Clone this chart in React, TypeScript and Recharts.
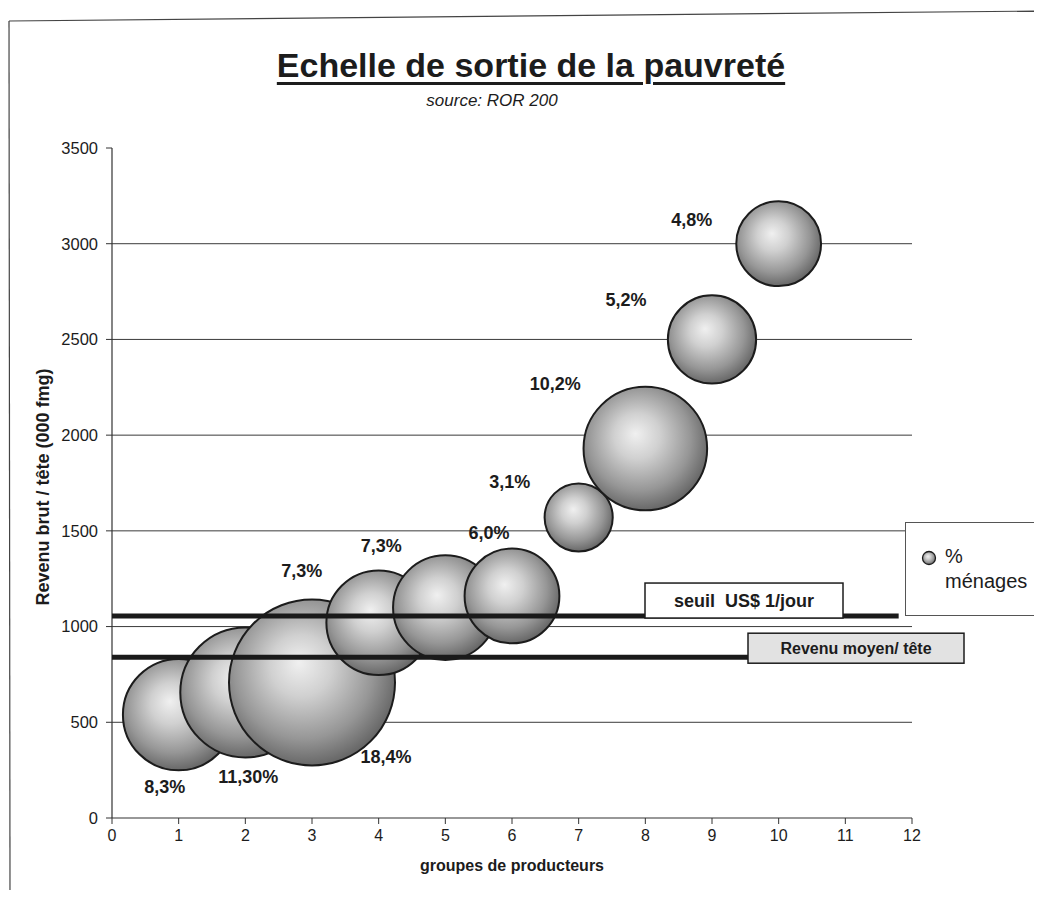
import React from 'react';
import {
  ScatterChart,
  Scatter,
  XAxis,
  YAxis,
  ZAxis,
  CartesianGrid,
  ReferenceLine,
  Legend,
} from 'recharts';

// ---- data ----
const groupes = [1, 2, 3, 4, 5, 6, 7, 8, 9, 10];
const revenus = [540, 656, 708, 1020, 1099, 1160, 1570, 1930, 2500, 3000];
const pctMenages = [8.3, 11.3, 18.4, 7.3, 7.3, 6.0, 3.1, 10.2, 5.2, 4.8];
const pctLabels = ['8,3%', '11,30%', '18,4%', '7,3%', '7,3%', '6,0%', '3,1%', '10,2%', '5,2%', '4,8%'];
const xTicks = [0, 1, 2, 3, 4, 5, 6, 7, 8, 9, 10, 11, 12];
const yTicks = [0, 500, 1000, 1500, 2000, 2500, 3000, 3500];
const gridValues = [500, 1000, 1500, 2000, 2500, 3000];
const seuilUSD = 1055;
const seuilEnd = 11.8;
const revenuMoyen = 840;

const data = groupes.map((g, i) => ({ x: g, y: revenus[i], z: pctMenages[i], label: pctLabels[i], i }));

// label placement (pixels, relative to bubble centre)
const LABEL_OFFSETS: [number, number][] = [
  [-14, 72], [3, 85], [74, 75], [-77, -52], [-64, -62],
  [-23, -63], [-69, -35], [-90, -65], [-86, -39], [-87, -24],
];

const FONT = '"Liberation Sans", Arial, Helvetica, sans-serif';
const INK = '#1c1c1c';
const MAX_R = 83;

const Gradient = ({ id }: { id: string }) => (
  <radialGradient id={id} cx="46%" cy="44%" r="58%" fx="42%" fy="38%">
    <stop offset="0%" stopColor="#f0f0f0" />
    <stop offset="32%" stopColor="#d0d0d0" />
    <stop offset="72%" stopColor="#969696" />
    <stop offset="100%" stopColor="#626262" />
  </radialGradient>
);

const Bubble = (props: any) => {
  const { cx, cy, size, payload } = props;
  const idx = payload?.i ?? props.index ?? 0;
  const r = size ? Math.sqrt(size / Math.PI) : (props.width || 0) / 2;
  const id = `bubgrad-${idx}`;
  const [dx, dy] = LABEL_OFFSETS[idx] || [0, 0];
  return (
    <g>
      <defs>
        <Gradient id={id} />
      </defs>
      <circle cx={cx} cy={cy} r={r} fill={`url(#${id})`} stroke={INK} strokeWidth={2} />
      <text
        x={cx + dx}
        y={cy + dy}
        textAnchor="middle"
        dominantBaseline="central"
        fontFamily={FONT}
        fontWeight="bold"
        fontSize={18}
        fill={INK}
      >
        {payload?.label}
      </text>
    </g>
  );
};

const SeuilBox = (props: any) => {
  const vb = props.viewBox || {};
  const left = vb.x + 533;
  const top = vb.y - 33;
  return (
    <g>
      <rect x={left} y={top} width={198} height={35} fill="#ffffff" stroke={INK} strokeWidth={1.5} />
      <text
        x={left + 99}
        y={top + 18}
        textAnchor="middle"
        dominantBaseline="central"
        fontFamily={FONT}
        fontWeight="bold"
        fontSize={18}
        fill={INK}
        style={{ whiteSpace: 'pre' }}
      >
        {'seuil  US$ 1/jour'}
      </text>
    </g>
  );
};

const RevenuBox = (props: any) => {
  const vb = props.viewBox || {};
  const left = vb.x + 636;
  const top = vb.y - 24;
  return (
    <g>
      <rect x={left} y={top} width={216} height={30} fill="#e2e2e2" stroke={INK} strokeWidth={1.5} />
      <text
        x={left + 108}
        y={top + 15}
        textAnchor="middle"
        dominantBaseline="central"
        fontFamily={FONT}
        fontWeight="bold"
        fontSize={16}
        fill={INK}
      >
        Revenu moyen/ tête
      </text>
    </g>
  );
};

const YLabel = (props: any) => {
  const vb = props.viewBox || {};
  const cy = vb.y + vb.height / 2 + 4;
  const x = 41;
  return (
    <text
      x={x}
      y={cy}
      transform={`rotate(-90, ${x}, ${cy})`}
      textAnchor="middle"
      fontFamily={FONT}
      fontWeight="bold"
      fontSize={18}
      fill={INK}
    >
      Revenu brut / tête (000 fmg)
    </text>
  );
};

const XLabel = (props: any) => {
  const vb = props.viewBox || {};
  return (
    <text
      x={vb.x + vb.width / 2}
      y={863}
      textAnchor="middle"
      fontFamily={FONT}
      fontWeight="bold"
      fontSize={16}
      fill={INK}
    >
      groupes de producteurs
    </text>
  );
};

const LegendBox = () => (
  <div
    style={{
      position: 'relative',
      width: 160,
      height: 94,
      boxSizing: 'border-box',
      borderTop: '1px solid #555',
      borderBottom: '1px solid #555',
      borderLeft: '1px solid #555',
      background: '#fff',
      fontFamily: FONT,
      fontSize: 20,
      lineHeight: '20px',
      color: INK,
      textAlign: 'left',
    }}
  >
    <svg width={20} height={20} style={{ position: 'absolute', left: 13, top: 25 }}>
      <defs>
        <Gradient id="leg-grad" />
      </defs>
      <circle cx={10} cy={10} r={6.5} fill="url(#leg-grad)" stroke={INK} strokeWidth={1.3} />
    </svg>
    <span style={{ position: 'absolute', left: 39, top: 23 }}>%</span>
    <span style={{ position: 'absolute', left: 39, top: 48 }}>ménages</span>
  </div>
);

export default function App() {
  return (
    <div style={{ position: 'relative', width: 1034, height: 882, overflow: 'hidden', background: '#fff' }}>
      {/* scanned page frame */}
      <svg width={1034} height={882} style={{ position: 'absolute', left: 0, top: 0 }}>
        <line x1={1} y1={13} x2={1034} y2={3} stroke="#444" strokeWidth={1.2} />
        <line x1={1} y1={13} x2={2} y2={882} stroke="#444" strokeWidth={1.2} />
      </svg>
      <div
        style={{
          position: 'absolute',
          left: 223,
          top: 40,
          width: 600,
          textAlign: 'center',
          fontFamily: FONT,
          fontWeight: 'bold',
          fontSize: 34,
          lineHeight: '34px',
          color: INK,
          textDecoration: 'underline',
          textDecorationThickness: '3px',
          textUnderlineOffset: '5px',
        }}
      >
        Echelle de sortie de la pauvreté
      </div>
      <div
        style={{
          position: 'absolute',
          left: 384,
          top: 84,
          width: 200,
          textAlign: 'center',
          fontFamily: FONT,
          fontStyle: 'italic',
          fontSize: 17,
          lineHeight: '17px',
          color: INK,
        }}
      >
        source: ROR 200
      </div>
      <div style={{ position: 'absolute', left: 0, top: 0 }}>
        <ScatterChart
          width={1034}
          height={882}
          margin={{ top: 140, right: 130, bottom: 42, left: 44 }}
        >
          <CartesianGrid
            vertical={false}
            horizontal={true}
            horizontalValues={gridValues}
            stroke="#3a3a3a"
            strokeWidth={1}
          />
          <XAxis
            type="number"
            dataKey="x"
            domain={[0, 12]}
            ticks={xTicks}
            interval={0}
            height={30}
            tickSize={6}
            tickMargin={6}
            axisLine={{ stroke: '#333', strokeWidth: 1.2 }}
            tickLine={{ stroke: '#333' }}
            tick={{ fill: INK, fontSize: 16, fontFamily: FONT }}
            label={<XLabel />}
          />
          <YAxis
            type="number"
            dataKey="y"
            domain={[0, 3500]}
            ticks={yTicks}
            interval={0}
            width={60}
            tickSize={6}
            tickMargin={8}
            axisLine={{ stroke: '#333', strokeWidth: 1.2 }}
            tickLine={{ stroke: '#333' }}
            tick={{ fill: INK, fontSize: 16.5, fontFamily: FONT }}
            label={<YLabel />}
          />
          <ZAxis type="number" dataKey="z" domain={[0, 18.4]} range={[0, Math.PI * MAX_R * MAX_R]} />
          <Scatter
            name="% ménages"
            data={data}
            shape={<Bubble />}
            isAnimationActive={false}
          />
          <ReferenceLine
            segment={[{ x: 0, y: seuilUSD }, { x: seuilEnd, y: seuilUSD }]}
            stroke="#1a1a1a"
            strokeWidth={5}
            ifOverflow="visible"
            zIndex={1500}
            label={<SeuilBox />}
          />
          <ReferenceLine
            y={revenuMoyen}
            stroke="#1a1a1a"
            strokeWidth={5}
            ifOverflow="visible"
            zIndex={1500}
            label={<RevenuBox />}
          />
          <Legend
            layout="horizontal"
            verticalAlign="middle"
            align="center"
            content={<LegendBox />}
            wrapperStyle={{ position: 'absolute', left: 897, top: 514, width: 160, height: 94 }}
          />
        </ScatterChart>
      </div>
    </div>
  );
}
